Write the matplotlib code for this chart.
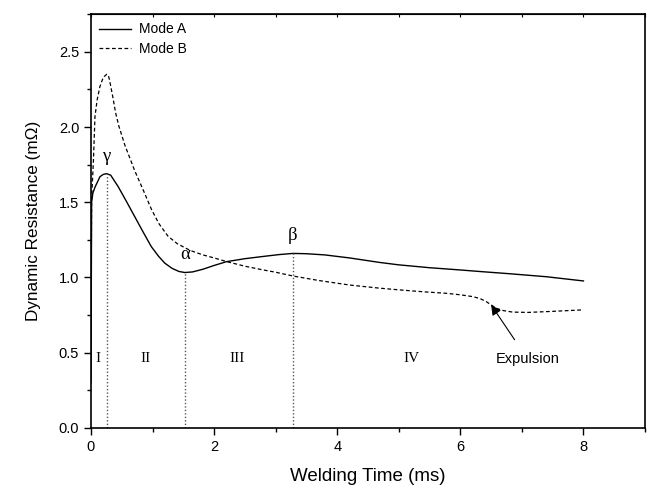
import matplotlib
matplotlib.use("Agg")
import matplotlib.pyplot as plt
from matplotlib.ticker import MultipleLocator, FormatStrFormatter

# welding time (ms) and dynamic resistance (mOhm)
time_a = [0.0, 0.01, 0.03, 0.065, 0.146, 0.2, 0.254, 0.32, 0.44, 0.57, 0.71,
          0.85, 0.98, 1.10, 1.20, 1.32, 1.43, 1.525, 1.65, 1.82, 2.0, 2.2,
          2.5, 2.8, 3.05, 3.28, 3.5, 3.8, 4.2, 4.69, 5.0, 5.5, 6.0, 6.31,
          6.8, 7.4, 8.0]
res_a = [0.3, 1.50, 1.56, 1.60, 1.67, 1.685, 1.69, 1.68, 1.605, 1.51, 1.405,
         1.30, 1.205, 1.14, 1.095, 1.06, 1.04, 1.033, 1.037, 1.055, 1.08,
         1.105, 1.125, 1.14, 1.152, 1.16, 1.158, 1.15, 1.13, 1.10, 1.084,
         1.065, 1.05, 1.04, 1.025, 1.005, 0.977]

time_b = [0.0, 0.01, 0.04, 0.065, 0.10, 0.146, 0.2, 0.254, 0.28, 0.30, 0.35,
          0.40, 0.45, 0.55, 0.71, 0.85, 0.98, 1.10, 1.25, 1.40, 1.61, 1.82,
          2.0, 2.2, 2.5, 2.8, 3.0, 3.28, 3.7, 4.2, 4.69, 5.0, 5.4, 5.77, 6.0,
          6.2, 6.32, 6.42, 6.5, 6.58, 6.7, 6.85, 7.1, 7.5, 8.0]
res_b = [0.6, 1.52, 1.78, 2.07, 2.18, 2.27, 2.33, 2.35, 2.345, 2.315, 2.21,
         2.095, 2.01, 1.88, 1.71, 1.58, 1.455, 1.36, 1.275, 1.225, 1.18, 1.15,
         1.13, 1.106, 1.075, 1.05, 1.035, 1.01, 0.98, 0.95, 0.929, 0.918,
         0.905, 0.895, 0.885, 0.873, 0.86, 0.84, 0.818, 0.796, 0.78, 0.77,
         0.768, 0.775, 0.785]

# stage boundaries gamma, alpha, beta on Mode A
bound_t = [0.254, 1.525, 3.28]
bound_r = [1.69, 1.033, 1.16]
bound_names = ["\u03b3", "\u03b1", "\u03b2"]

stage_names = ["I", "II", "III", "IV"]
stage_t = [0.11, 0.88, 2.38, 5.2]
stage_r = 0.46

expulsion_tip = (6.5, 0.818)
expulsion_text = (7.09, 0.46)

sans = "Liberation Sans"
serif = "Liberation Serif"

fig = plt.figure(figsize=(6.48, 4.88), dpi=100)
ax = fig.add_axes([0.1404, 0.123, 0.855, 0.848])

ax.plot(time_a, res_a, color="black", lw=1.0, label="Mode A")
ax.plot(time_b, res_b, color="black", lw=0.9, ls=(0, (3, 2)), label="Mode B")

ax.vlines(bound_t, 0, bound_r, colors="#555555", linestyles=(0, (1, 1.5)), lw=1.0)
for t, r, name in zip(bound_t, bound_r, bound_names):
    ax.text(t, r + 0.06, name, family=serif, fontsize=13.5, ha="center", va="bottom")

for t, name in zip(stage_t, stage_names):
    ax.text(t, stage_r, name, family=serif, fontsize=11, ha="center", va="center")

ax.annotate("Expulsion", xy=expulsion_tip, xytext=expulsion_text,
            family=sans, fontsize=10.5, ha="center", va="center",
            arrowprops=dict(arrowstyle="-|>", color="black", lw=0.8,
                            mutation_scale=15, shrinkA=8, shrinkB=0))

ax.set_xlim(0, 9)
ax.set_ylim(0, 2.75)
ax.xaxis.set_major_locator(MultipleLocator(2))
ax.xaxis.set_minor_locator(MultipleLocator(1))
ax.yaxis.set_major_locator(MultipleLocator(0.5))
ax.yaxis.set_minor_locator(MultipleLocator(0.25))
ax.yaxis.set_major_formatter(FormatStrFormatter("%.1f"))

ax.tick_params(which="major", direction="out", length=5, width=1,
               labelsize=10.5, top=False, right=False)
ax.tick_params(which="minor", direction="out", length=3, width=1,
               top=False, right=False)
for lab in ax.get_xticklabels() + ax.get_yticklabels():
    lab.set_family(sans)

# small inward ticks on the top frame
top = ax.secondary_xaxis("top")
top.xaxis.set_major_locator(MultipleLocator(1))
top.tick_params(direction="in", length=2, width=0.8, labeltop=False)

for sp in ax.spines.values():
    sp.set_linewidth(1.2)

ax.set_xlabel("Welding Time (ms)", family=sans, fontsize=13.5, labelpad=10.5)
ax.set_ylabel("Dynamic Resistance (m\u03a9)", family=sans, fontsize=12.3, labelpad=13)

leg = ax.legend(loc="upper left", frameon=False, prop={"family": sans, "size": 10},
                handlelength=2.3, handletextpad=0.55, labelspacing=0.37,
                borderaxespad=0.45, borderpad=0.15)

fig.savefig("out.png", dpi=100)
